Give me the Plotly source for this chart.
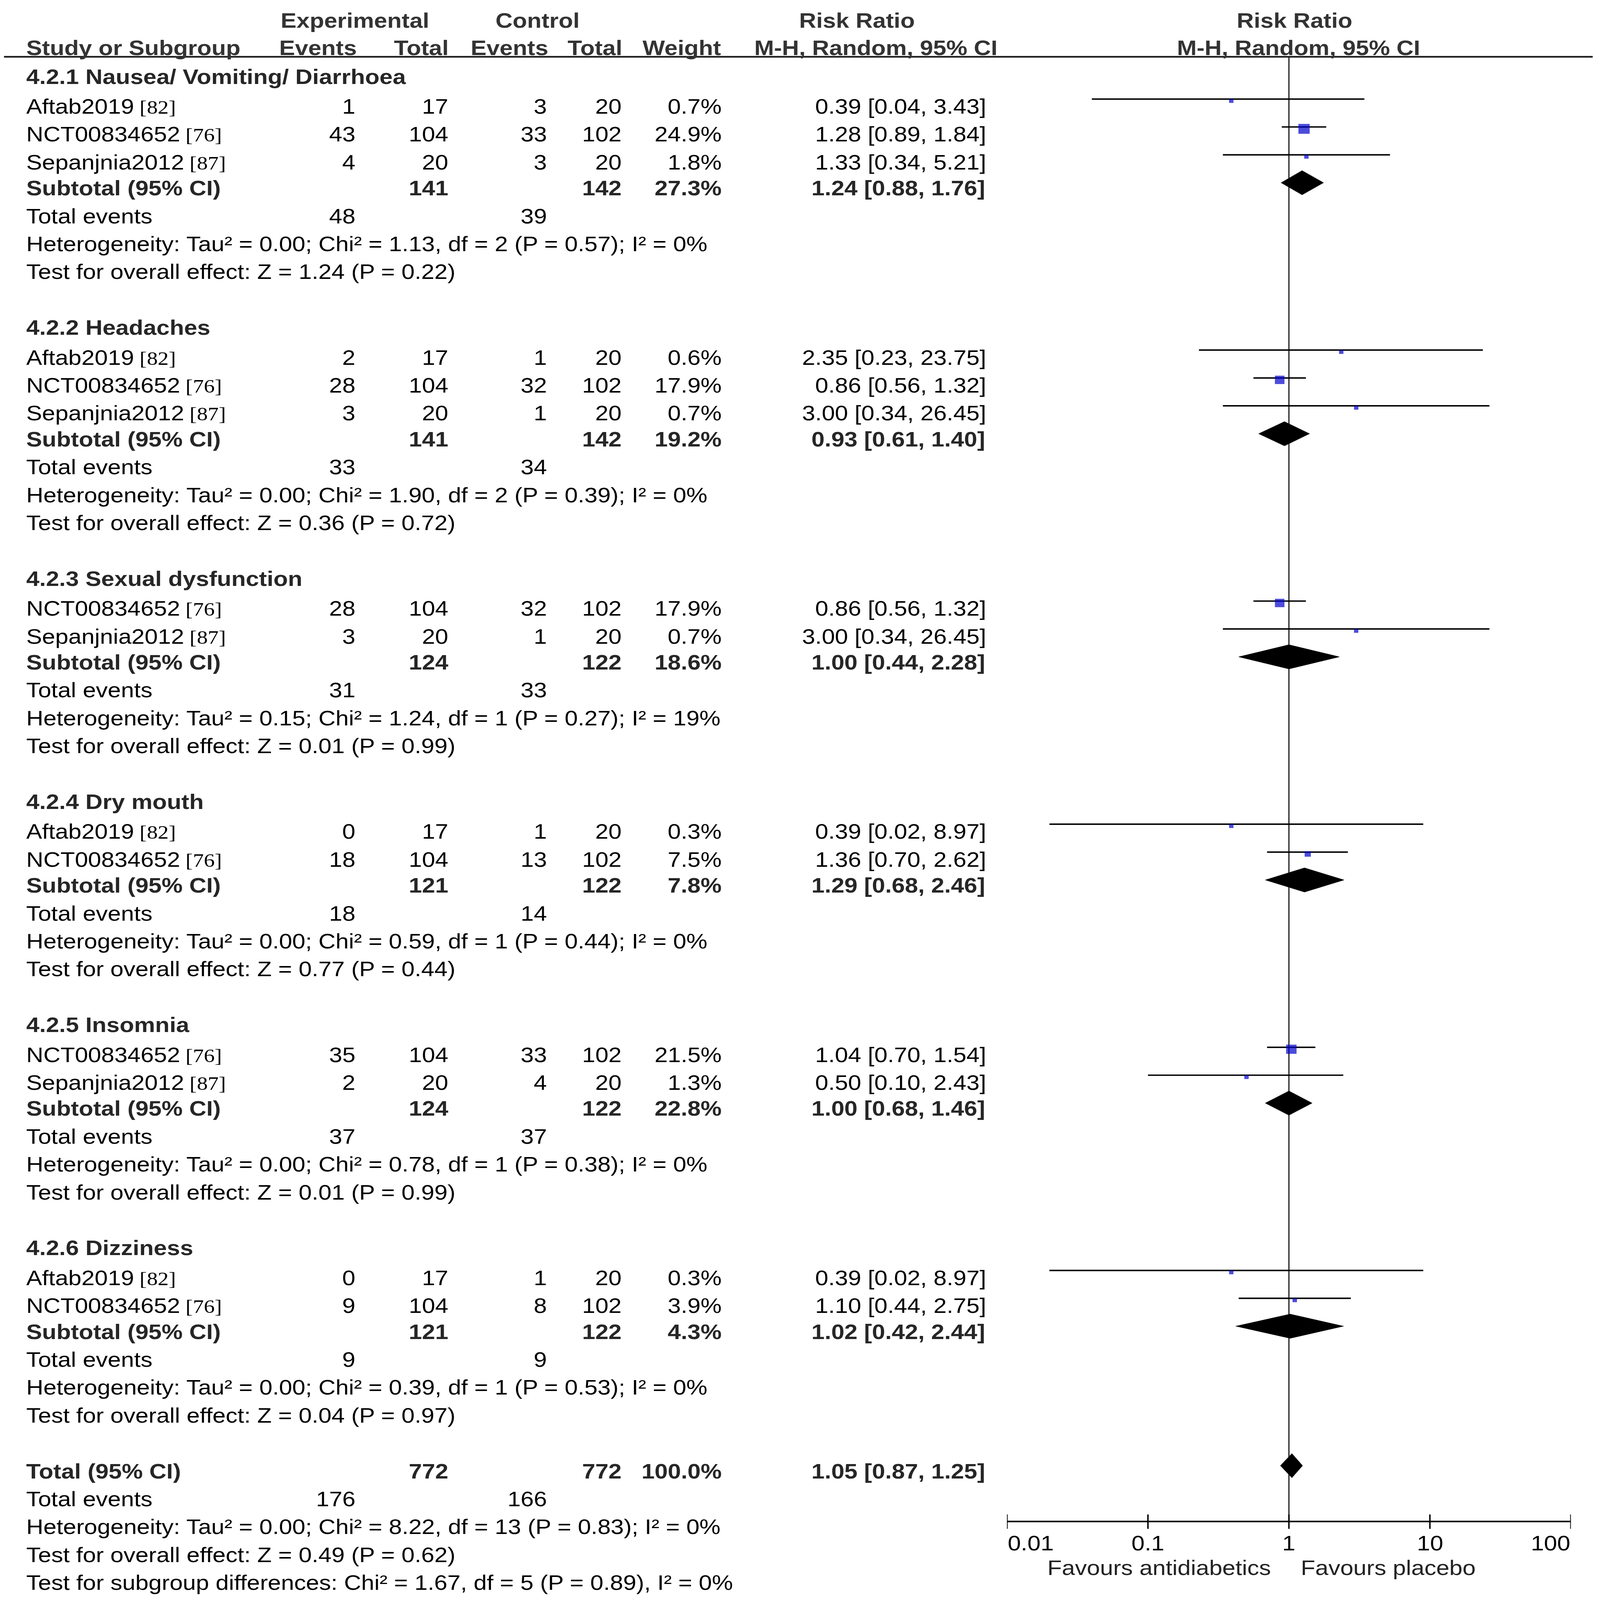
import math
import plotly.graph_objects as go

# ---------------- data ----------------
group_titles = ["4.2.1 Nausea/ Vomiting/ Diarrhoea", "4.2.2 Headaches", "4.2.3 Sexual dysfunction",
                "4.2.4 Dry mouth", "4.2.5 Insomnia", "4.2.6 Dizziness"]
group_size = [3, 3, 2, 2, 2, 2]

study_names = ["Aftab2019", "NCT00834652", "Sepanjnia2012",
               "Aftab2019", "NCT00834652", "Sepanjnia2012",
               "NCT00834652", "Sepanjnia2012",
               "Aftab2019", "NCT00834652",
               "NCT00834652", "Sepanjnia2012",
               "Aftab2019", "NCT00834652"]
study_refs = ["[82]", "[76]", "[87]", "[82]", "[76]", "[87]", "[76]", "[87]",
              "[82]", "[76]", "[76]", "[87]", "[82]", "[76]"]
exp_events = [1, 43, 4, 2, 28, 3, 28, 3, 0, 18, 35, 2, 0, 9]
exp_total = [17, 104, 20, 17, 104, 20, 104, 20, 17, 104, 104, 20, 17, 104]
ctl_events = [3, 33, 3, 1, 32, 1, 32, 1, 1, 13, 33, 4, 1, 8]
ctl_total = [20, 102, 20, 20, 102, 20, 102, 20, 20, 102, 102, 20, 20, 102]
weights = [0.7, 24.9, 1.8, 0.6, 17.9, 0.7, 17.9, 0.7, 0.3, 7.5, 21.5, 1.3, 0.3, 3.9]
rr = [0.39, 1.28, 1.33, 2.35, 0.86, 3.00, 0.86, 3.00, 0.39, 1.36, 1.04, 0.50, 0.39, 1.10]
rr_lo = [0.04, 0.89, 0.34, 0.23, 0.56, 0.34, 0.56, 0.34, 0.02, 0.70, 0.70, 0.10, 0.02, 0.44]
rr_hi = [3.43, 1.84, 5.21, 23.75, 1.32, 26.45, 1.32, 26.45, 8.97, 2.62, 1.54, 2.43, 8.97, 2.75]

sub_exp_total = [141, 141, 124, 121, 124, 121]
sub_ctl_total = [142, 142, 122, 122, 122, 122]
sub_weight = [27.3, 19.2, 18.6, 7.8, 22.8, 4.3]
sub_rr = [1.24, 0.93, 1.00, 1.29, 1.00, 1.02]
sub_lo = [0.88, 0.61, 0.44, 0.68, 0.68, 0.42]
sub_hi = [1.76, 1.40, 2.28, 2.46, 1.46, 2.44]
sub_exp_events = [48, 33, 31, 18, 37, 9]
sub_ctl_events = [39, 34, 33, 14, 37, 9]
sub_het = ["Tau² = 0.00; Chi² = 1.13, df = 2 (P = 0.57); I² = 0%",
           "Tau² = 0.00; Chi² = 1.90, df = 2 (P = 0.39); I² = 0%",
           "Tau² = 0.15; Chi² = 1.24, df = 1 (P = 0.27); I² = 19%",
           "Tau² = 0.00; Chi² = 0.59, df = 1 (P = 0.44); I² = 0%",
           "Tau² = 0.00; Chi² = 0.78, df = 1 (P = 0.38); I² = 0%",
           "Tau² = 0.00; Chi² = 0.39, df = 1 (P = 0.53); I² = 0%"]
sub_z = ["Z = 1.24 (P = 0.22)", "Z = 0.36 (P = 0.72)", "Z = 0.01 (P = 0.99)",
         "Z = 0.77 (P = 0.44)", "Z = 0.01 (P = 0.99)", "Z = 0.04 (P = 0.97)"]

total_exp_total, total_ctl_total, total_weight = 772, 772, 100.0
total_rr, total_lo, total_hi = 1.05, 0.87, 1.25
total_exp_events, total_ctl_events = 176, 166
total_het = "Tau² = 0.00; Chi² = 8.22, df = 13 (P = 0.83); I² = 0%"
total_z = "Z = 0.49 (P = 0.62)"
subgroup_test = "Chi² = 1.67, df = 5 (P = 0.89), I² = 0%"

tick_values = [0.01, 0.1, 1, 10, 100]
tick_labels = ["0.01", "0.1", "1", "10", "100"]
favours_left, favours_right = "Favours antidiabetics", "Favours placebo"

# ---------------- layout constants (reference pixel grid) ----------------
W, H = 4395, 5014
Y0, DY = 240, 87.4
FX0, FX1 = 2766, 4315        # pixel x of 0.01 and 100
AXIS_Y = 4768
HEADER_LINE_Y = 178
FS = 65
FONT = "Liberation Sans, Arial, sans-serif"
SERIF = "Liberation Serif, Times New Roman, serif"
BOLD_C = "#262626"
HEAD_C = "#333333"
REG_C = "#000000"

COL_NAME = 70
COL_EE, COL_ET, COL_CE, COL_CT, COL_W, COL_RR = 978, 1233, 1504, 1709, 1984, 2711

ann = []


def txt(s, x, y, anchor="left", bold=False, color=None, size=None):
    ann.append(dict(text=(f"<b>{s}</b>" if bold else s), x=x / W, xref="paper", y=y, yref="y",
                    xanchor=anchor, yanchor="middle", showarrow=False,
                    font=dict(family=FONT, size=size or FS, color=color or (BOLD_C if bold else REG_C))))


def row_y(r):
    return Y0 + r * DY


def fmt_ci(e, lo, hi):
    return f"{e:.2f} [{lo:.2f}, {hi:.2f}]"


# headers
h1, h2 = 64, 150
txt("Experimental", 975, h1, "center", True, HEAD_C)
txt("Control", 1476, h1, "center", True, HEAD_C)
txt("Risk Ratio", 2354, h1, "center", True, HEAD_C)
txt("Risk Ratio", 3556, h1, "center", True, HEAD_C)
txt("Study or Subgroup", COL_NAME, h2, "left", True, HEAD_C)
txt("Events", 982, h2, "right", True, HEAD_C)
txt("Total", 1234, h2, "right", True, HEAD_C)
txt("Events", 1508, h2, "right", True, HEAD_C)
txt("Total", 1711, h2, "right", True, HEAD_C)
txt("Weight", 1982, h2, "right", True, HEAD_C)
txt("M-H, Random, 95% CI", 2406, h2, "center", True, HEAD_C)
txt("M-H, Random, 95% CI", 3567, h2, "center", True, HEAD_C)

# rows
ci_x, ci_y = [], []
sq_x, sq_y, sq_s = [], [], []
diamonds = []
r = 0
si = 0
STUDY_SHIFT = 6
FOREST_SHIFT = -17
for g, title in enumerate(group_titles):
    txt(title, COL_NAME, row_y(r), "left", True)
    r += 1
    for _ in range(group_size[g]):
        y = row_y(r) + STUDY_SHIFT
        name = (f"{study_names[si]}<span style=\"font-family:{SERIF};font-size:60px\"> "
                f"{study_refs[si]}</span>")
        txt(name, COL_NAME, y)
        txt(str(exp_events[si]), COL_EE, y, "right")
        txt(str(exp_total[si]), COL_ET, y, "right")
        txt(str(ctl_events[si]), COL_CE, y, "right")
        txt(str(ctl_total[si]), COL_CT, y, "right")
        txt(f"{weights[si]:.1f}%", COL_W, y, "right")
        txt(fmt_ci(rr[si], rr_lo[si], rr_hi[si]), COL_RR, y, "right")
        fy = row_y(r) + FOREST_SHIFT
        ci_x += [rr_lo[si], rr_hi[si], None]
        ci_y += [fy, fy, None]
        sq_x.append(rr[si])
        sq_y.append(fy + 6)
        sq_s.append(max(6.2 * math.sqrt(weights[si]), 12))
        si += 1
        r += 1
    y = row_y(r)
    txt("Subtotal (95% CI)", COL_NAME, y, "left", True)
    txt(str(sub_exp_total[g]), COL_ET, y, "right", True)
    txt(str(sub_ctl_total[g]), COL_CT, y, "right", True)
    txt(f"{sub_weight[g]:.1f}%", COL_W, y, "right", True)
    txt(fmt_ci(sub_rr[g], sub_lo[g], sub_hi[g]), COL_RR - 3, y, "right", True)
    diamonds.append((sub_rr[g], sub_lo[g], sub_hi[g], row_y(r) + FOREST_SHIFT))
    r += 1
    y = row_y(r)
    txt("Total events", COL_NAME, y)
    txt(str(sub_exp_events[g]), COL_EE, y, "right")
    txt(str(sub_ctl_events[g]), COL_CE, y, "right")
    r += 1
    txt("Heterogeneity: " + sub_het[g], COL_NAME, row_y(r))
    r += 1
    txt("Test for overall effect: " + sub_z[g], COL_NAME, row_y(r))
    r += 2

y = row_y(r)
txt("Total (95% CI)", COL_NAME, y, "left", True)
txt(str(total_exp_total), COL_ET, y, "right", True)
txt(str(total_ctl_total), COL_CT, y, "right", True)
txt(f"{total_weight:.1f}%", COL_W, y, "right", True)
txt(fmt_ci(total_rr, total_lo, total_hi), COL_RR - 3, y, "right", True)
diamonds.append((total_rr, total_lo, total_hi, row_y(r) + FOREST_SHIFT))
r += 1
y = row_y(r)
txt("Total events", COL_NAME, y)
txt(str(total_exp_events), COL_EE, y, "right")
txt(str(total_ctl_events), COL_CE, y, "right")
r += 1
txt("Heterogeneity: " + total_het, COL_NAME, row_y(r))
r += 1
txt("Test for overall effect: " + total_z, COL_NAME, row_y(r))
r += 1
txt("Test for subgroup differences: " + subgroup_test, COL_NAME, row_y(r))

# tick labels (log axis: annotation x given as log10) and favours labels
for i, (v, lab) in enumerate(zip(tick_values, tick_labels)):
    anchor = "left" if i == 0 else ("right" if i == len(tick_values) - 1 else "center")
    ann.append(dict(text=lab, x=math.log10(v), xref="x", y=4835, yref="y", xanchor=anchor,
                    yanchor="middle", showarrow=False, font=dict(family=FONT, size=FS, color="#000")))
txt(favours_left, 3493, 4913, "right", False, "#222")
txt(favours_right, 3571, 4913, "left", False, "#222")

# ---------------- traces ----------------
fig = go.Figure()
fig.add_trace(go.Scatter(x=[1, 1], y=[HEADER_LINE_Y, AXIS_Y], mode="lines",
                         line=dict(color="#2a2a2a", width=3.5), hoverinfo="skip"))
fig.add_trace(go.Scatter(x=ci_x, y=ci_y, mode="lines", line=dict(color="#000", width=4.5),
                         hoverinfo="skip"))
fig.add_trace(go.Scatter(x=sq_x, y=sq_y, mode="markers",
                         marker=dict(symbol="square", size=sq_s, color="#0000CC", line=dict(width=0)),
                         hoverinfo="skip"))
for est, lo, hi, dy in diamonds:
    hh = 38
    fig.add_trace(go.Scatter(x=[lo, est, hi, est, lo], y=[dy, dy - hh, dy, dy + hh, dy],
                             mode="lines", fill="toself", fillcolor="#000",
                             line=dict(color="#000", width=1), hoverinfo="skip"))
fig.add_trace(go.Scatter(x=[tick_values[0], tick_values[-1]], y=[AXIS_Y, AXIS_Y], mode="lines",
                         line=dict(color="#000", width=5), hoverinfo="skip"))
tx, ty = [], []
for v in tick_values:
    tx += [v, v, None]
    ty += [AXIS_Y - 22, AXIS_Y + 23, None]
fig.add_trace(go.Scatter(x=tx, y=ty, mode="lines", line=dict(color="#000", width=4),
                         hoverinfo="skip"))

fig.update_layout(
    width=W, height=H, margin=dict(l=0, r=0, t=0, b=0),
    paper_bgcolor="white", plot_bgcolor="white", showlegend=False,
    xaxis=dict(type="log", range=[math.log10(tick_values[0]), math.log10(tick_values[-1])],
               domain=[FX0 / W, FX1 / W], visible=False, fixedrange=True),
    yaxis=dict(range=[H, 0], domain=[0, 1], visible=False, fixedrange=True),
    annotations=ann,
    shapes=[dict(type="line", xref="paper", yref="y", x0=11 / W, x1=4375 / W,
                 y0=HEADER_LINE_Y, y1=HEADER_LINE_Y, line=dict(color="#1a1a1a", width=5))],
)

# fit the fixed-size figure to whatever window it is shown in
fit_js = """
(function(){
  var d = document.getElementById('{plot_id}');
  document.documentElement.style.overflow = 'hidden';
  document.body.style.margin = '0';
  document.body.style.overflow = 'hidden';
  function fit(){
    var sx = window.innerWidth / %d;
    var sy = window.innerHeight / %d;
    d.style.transformOrigin = '0 0';
    d.style.transform = 'scale(' + sx + ',' + sy + ')';
  }
  fit();
  window.addEventListener('resize', fit);
})();
""" % (W, H)
fig.write_html("out.html", config={"displayModeBar": False, "staticPlot": True}, post_script=fit_js)
